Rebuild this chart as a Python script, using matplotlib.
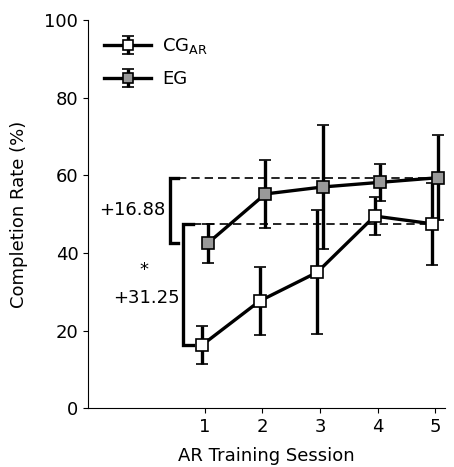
import matplotlib
matplotlib.use("Agg")
import matplotlib.pyplot as plt
import numpy as np

sessions = [1, 2, 3, 4, 5]
cg_mean = [16.25, 27.6, 35.0, 49.5, 47.5]
cg_err = [5.0, 8.8, 16.0, 4.8, 10.5]
eg_mean = [42.5, 55.2, 57.0, 58.2, 59.38]
eg_err = [5.0, 8.8, 16.0, 4.8, 11.0]

plt.rcParams['font.size'] = 13

fig = plt.figure(figsize=(4.54, 4.67), dpi=100)
ax = fig.add_axes([0.194, 0.126, 0.786, 0.831])

x = np.array(sessions)
style = dict(color='black', lw=2.4, elinewidth=2.4, capsize=4, capthick=2.0,
             marker='s', markersize=9, markeredgecolor='black', markeredgewidth=1.2)
ax.errorbar(x - 0.05, cg_mean, yerr=cg_err, markerfacecolor='white',
            label='CG$_{\\mathrm{AR}}$', zorder=3, **style)
ax.errorbar(x + 0.05, eg_mean, yerr=eg_err, markerfacecolor='#999999',
            label='EG', zorder=3, **style)

# improvement brackets
eg_gain = eg_mean[-1] - eg_mean[0]
cg_gain = cg_mean[-1] - cg_mean[0]
ax.plot([0.53, 0.39, 0.39, 0.53], [eg_mean[-1], eg_mean[-1], eg_mean[0], eg_mean[0]],
        color='black', lw=2.4, solid_joinstyle='miter')
ax.plot([0.53, 5.05], [eg_mean[-1], eg_mean[-1]], color='black', lw=1.2,
        ls=(0, (5, 3)), zorder=1)
ax.plot([0.8, 0.62, 0.62, 0.8], [cg_mean[-1], cg_mean[-1], cg_mean[0], cg_mean[0]],
        color='black', lw=2.4, solid_joinstyle='miter')
ax.plot([0.8, 4.95], [cg_mean[-1], cg_mean[-1]], color='black', lw=1.2,
        ls=(0, (5, 3)), zorder=1)
ax.text(0.32, (eg_mean[0] + eg_mean[-1]) / 2, f'+{eg_gain:.2f}', ha='right', va='center')
ax.text(-0.06, 35.5, '*', ha='center', va='center')
ax.text(0.57, 28.5, f'+{cg_gain:.2f}', ha='right', va='center')

ax.set_xlim(-1.03, 5.17)
ax.set_ylim(0, 100)
ax.set_xticks(sessions)
ax.set_yticks([0, 20, 40, 60, 80, 100])
ax.spines['top'].set_visible(False)
ax.spines['right'].set_visible(False)
ax.set_xlabel('AR Training Session', labelpad=8)
ax.set_ylabel('Completion Rate (%)', labelpad=12)
ax.legend(loc='upper left', frameon=False, handlelength=2.6, markerscale=0.8,
          borderaxespad=0.5, labelspacing=0.75, handletextpad=0.6)

fig.savefig('out.png', dpi=100)
